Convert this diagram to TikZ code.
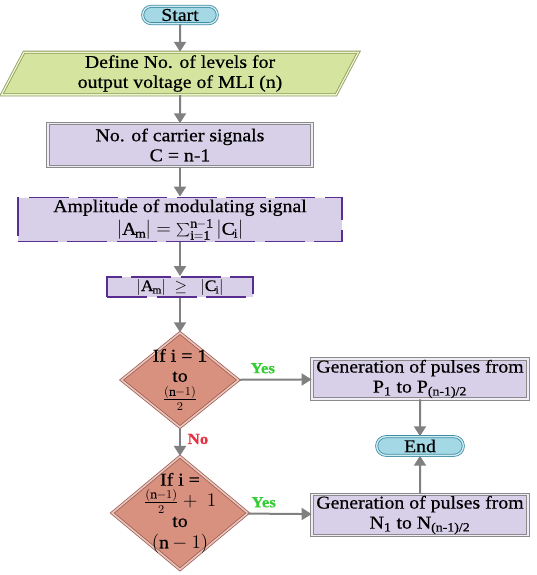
\documentclass[tikz,border=0pt]{standalone}
\usepackage{fontspec}
\setmainfont{Liberation Serif}[FakeStretch=1.1, FakeBold=0.6]
\usetikzlibrary{shapes.geometric,shapes.misc,arrows.meta}
\definecolor{pillfill}{HTML}{A4D8E4}
\definecolor{pillline}{HTML}{3F8FA5}
\definecolor{iofill}{HTML}{D5E5A0}
\definecolor{ioline}{HTML}{8E9A5A}
\definecolor{boxfill}{HTML}{D8D0E8}
\definecolor{boxline}{HTML}{8A8A8A}
\definecolor{dashline}{HTML}{5A2E90}
\definecolor{decfill}{HTML}{D8907F}
\definecolor{decline}{HTML}{9E5E52}
\definecolor{arrowgray}{HTML}{808080}
\definecolor{yesgreen}{HTML}{33CC33}
\definecolor{nored}{HTML}{E83040}
\begin{document}
\begin{tikzpicture}[x=0.75pt, y=-0.75pt,
      every node/.style={font=\fontsize{13.5}{15}\selectfont, align=center, inner sep=0pt},
      term/.style={rounded rectangle, draw=pillline, line width=0.6pt, double=pillfill!50!white,
        double distance=1pt, fill=pillfill, minimum width=56pt, minimum height=13pt},
      inout/.style={trapezium, trapezium left angle=68, trapezium right angle=112,
        trapezium stretches=true, draw=ioline, line width=0.6pt, double=iofill!50!white,
        double distance=1pt, fill=iofill, minimum width=268pt, minimum height=32pt},
      process/.style={rectangle, draw=boxline, line width=0.6pt, double=boxfill!40!white,
        double distance=1.2pt, fill=boxfill},
      dashbox/.style={rectangle, draw=dashline, line width=1.4pt, dash pattern=on 30pt off 7pt,
        fill=boxfill},
      decision/.style={diamond, draw=decline, line width=0.6pt, double=decfill!50!white,
        double distance=1.2pt, fill=decfill},
      answer/.style={font=\fontsize{11.5}{13}\selectfont\bfseries},
      flow/.style={draw=arrowgray, line width=1.5pt, -{Triangle[width=9pt,length=7.5pt]}}]
      \useasboundingbox (0,0) rectangle (536,575);
      %
      \node[term] (start) at (180,15) {Start};
      \node[inout] (levels) at (180,73.5) {Define No. of levels for\\output voltage of MLI (n)};
      \node[process, minimum width=198pt, minimum height=32pt] (carrier) at (180,145)
        {No. of carrier signals\\C = n-1};
      \node[dashbox, minimum width=243pt, minimum height=33pt] (ampl) at (180,219.5)
        {Amplitude of modulating signal\\[2pt]$|\mathrm{A_m}| = \sum_{\mathrm{i=1}}^{\mathrm{n-1}}|\mathrm{C_i}|$};
      \node[dashbox, minimum width=109pt, minimum height=15pt] (cmp) at (180,287)
        {\fontsize{12}{13}\selectfont$|\mathrm{A_m}|\ \geq\ \ |\mathrm{C_i}|$};
      %
      \node[decision, minimum width=88pt, minimum height=71pt] (dec1) at (180,380) {};
      \node (dec1txt) at (dec1) {If i = 1\\to\\[2pt]$\frac{(\mathrm{n}-1)}{2}$};
      \node[decision, minimum width=102pt, minimum height=85pt] (dec2) at (180,513) {};
      \node (dec2txt) at (dec2) {If i =\\[1pt]$\frac{(\mathrm{n}-1)}{2}+\ 1$\\to\\[1pt]$(\mathrm{n}-1)$};
      %
      \node[process, minimum width=162pt, minimum height=30pt] (genP) at (420,379)
        {Generation of pulses from\\P\textsubscript{1} to P\textsubscript{(n-1)/2}};
      \node[term, minimum width=65pt, minimum height=14pt] (end) at (420,446) {End};
      \node[process, minimum width=162pt, minimum height=31pt] (genN) at (420,515)
        {Generation of pulses from\\N\textsubscript{1} to N\textsubscript{(n-1)/2}};
      %
      \draw[flow] (start) -- (levels);
      \draw[flow] (levels) -- (carrier);
      \draw[flow] (carrier) -- (ampl);
      \draw[flow] (ampl) -- (cmp);
      \draw[flow] (cmp) -- (dec1);
      \draw[flow] (dec1) -- node[answer, text=nored, right=5pt, pos=0.4] (no) {No} (dec2);
      \draw[flow] (dec1) -- node[answer, text=yesgreen, above=4pt, pos=0.33] (yes1) {Yes} (genP);
      \draw[flow] (dec2) -- node[answer, text=yesgreen, above=4pt, pos=0.25] (yes2) {Yes} (genN);
      \draw[flow] (genP) -- (end);
      \draw[flow] (genN) -- (end);
    \end{tikzpicture}
\end{document}
